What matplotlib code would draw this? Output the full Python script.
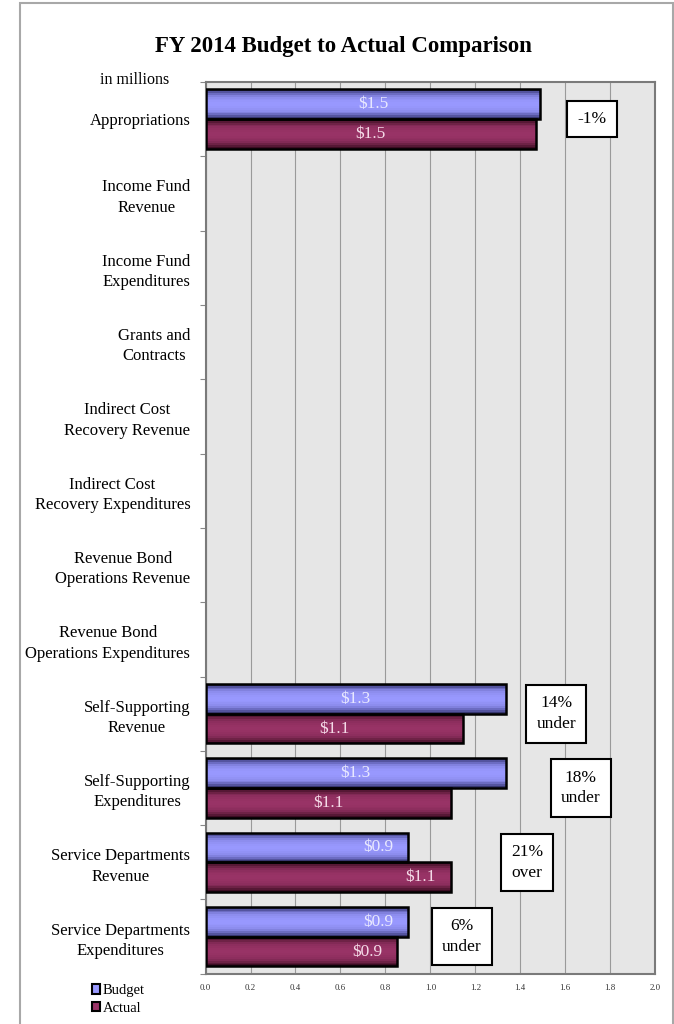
import numpy as np
import matplotlib.pyplot as plt
from matplotlib.patches import Rectangle
from matplotlib.colors import LinearSegmentedColormap

# Data (in millions)
categories = ["Appropriations", "Income Fund\nRevenue", "Income Fund\nExpenditures",
              "Grants and\nContracts", "Indirect Cost\nRecovery Revenue",
              "Indirect Cost\nRecovery Expenditures", "Revenue Bond\nOperations Revenue",
              "Revenue Bond\nOperations Expenditures", "Self-Supporting\nRevenue",
              "Self-Supporting\nExpenditures", "Service Departments\nRevenue",
              "Service Departments\nExpenditures"]
budget = [1.49, 0, 0, 0, 0, 0, 0, 0, 1.335, 1.335, 0.90, 0.90]
actual = [1.47, 0, 0, 0, 0, 0, 0, 0, 1.147, 1.094, 1.09, 0.853]
budget_labels = ["$1.5", "", "", "", "", "", "", "", "$1.3", "$1.3", "$0.9", "$0.9"]
actual_labels = ["$1.5", "", "", "", "", "", "", "", "$1.1", "$1.1", "$1.1", "$0.9"]
notes = ["-1%", "", "", "", "", "", "", "", "14%\nunder", "18%\nunder", "21%\nover", "6%\nunder"]
xticks = [0.0, 0.2, 0.4, 0.6, 0.8, 1.0, 1.2, 1.4, 1.6, 1.8, 2.0]

# layout bits
note_x = [1.72, 0, 0, 0, 0, 0, 0, 0, 1.56, 1.67, 1.43, 1.14]
label_at_end = [False] * 10 + [True, True]

plt.rcParams['font.family'] = ["Liberation Serif", 'DejaVu Serif']

fig = plt.figure(figsize=(6.74, 10.24), dpi=100)
ax = fig.add_axes([0.305, 0.049, 0.667, 0.871])

# outer border
fig.patches.append(Rectangle((0.03, -0.01), 0.968, 1.007, transform=fig.transFigure,
                             fill=False, edgecolor="#a8a8a8", linewidth=1.5))

ax.set_facecolor("#e6e6e6")
y = np.arange(len(categories))
h = 0.4
budget = np.array(budget)
actual = np.array(actual)

# shaded look: each bar built from thin horizontal strips
cm_b = LinearSegmentedColormap.from_list("b", ["#9999ff", "#8a8aea", "#5c5cac", "#262656"])
cm_a = LinearSegmentedColormap.from_list("a", ["#993366", "#8a2d5c", "#5e1c3a", "#2c0518"])
n_strips = 16
edges = np.linspace(-0.5, 0.5, n_strips + 1)
mids = (edges[:-1] + edges[1:]) / 2
for vals, off, cm in ((budget, -h / 2, cm_b), (actual, h / 2, cm_a)):
    for m in mids:
        shade = cm((abs(m) * 2) ** 1.6)
        ax.barh(y + off + m * h, vals, height=h / n_strips * 1.05, color=shade,
                edgecolor="none", zorder=3)
    bars = ax.barh(y + off, vals, height=h, fill=False, edgecolor="black", linewidth=1.8, zorder=4)
    for p, v in zip(bars, vals):
        if v <= 0:
            p.set_visible(False)

for i in range(len(categories)):
    for val, lab, off, col in ((budget[i], budget_labels[i], -h / 2, "#e8e8ff"),
                               (actual[i], actual_labels[i], h / 2, "#f5dbe8")):
        if not lab:
            continue
        if label_at_end[i]:
            ax.text(val - 0.065, i + off, lab, ha="right", va="center", color=col, fontsize=12.5, zorder=5)
        else:
            ax.text(val / 2, i + off, lab, ha="center", va="center", color=col, fontsize=12.5, zorder=5)
    if notes[i]:
        ax.text(note_x[i], i, notes[i], ha="center", va="center", fontsize=12.5, zorder=5,
                linespacing=1.4,
                bbox=dict(boxstyle="square,pad=0.6", facecolor="white", edgecolor="black", linewidth=1.5))

ax.set_xlim(0, 2.0)
ax.set_ylim(len(categories) - 0.5, -0.5)
ax.set_xticks(xticks)
ax.set_xticklabels([f"{t:.1f}" for t in xticks], fontsize=6.4, color="#333333")
ax.tick_params(axis="x", length=0, pad=7)
ax.xaxis.grid(True, color="#9a9a9a", linewidth=0.8, zorder=1)
ax.set_axisbelow(True)

ax.set_yticks(np.arange(len(categories) + 1) - 0.5)
ax.set_yticklabels([])
ax.tick_params(axis="y", which="major", length=4, color="#888888")
ax.set_yticks(y, categories, minor=True)
ax.tick_params(axis="y", which="minor", length=0, pad=11, labelsize=12)
for t in ax.get_yticklabels(minor=True):
    t.set_multialignment("center")
    t.set_linespacing(1.35)

for s in ax.spines.values():
    s.set_color("#7a7a7a")
    s.set_linewidth(1.5)

fig.text(0.509, 0.955, "FY 2014 Budget to Actual Comparison", ha="center", va="center",
         fontsize=16.5, fontweight="bold")
fig.text(0.2, 0.922, "in millions", ha="center", va="center", fontsize=11.5)

# legend
fig.legend([Rectangle((0, 0), 1, 1, facecolor="#9999ff", edgecolor="black", linewidth=1.5),
            Rectangle((0, 0), 1, 1, facecolor="#993366", edgecolor="black", linewidth=1.5)],
           ["Budget", "Actual"], loc="upper left", bbox_to_anchor=(0.125, 0.046),
           frameon=False, fontsize=10.5, handlelength=0.6, handleheight=0.6,
           handletextpad=0.15, labelspacing=0.3, borderpad=0)

fig.savefig("out.png", dpi=100)
